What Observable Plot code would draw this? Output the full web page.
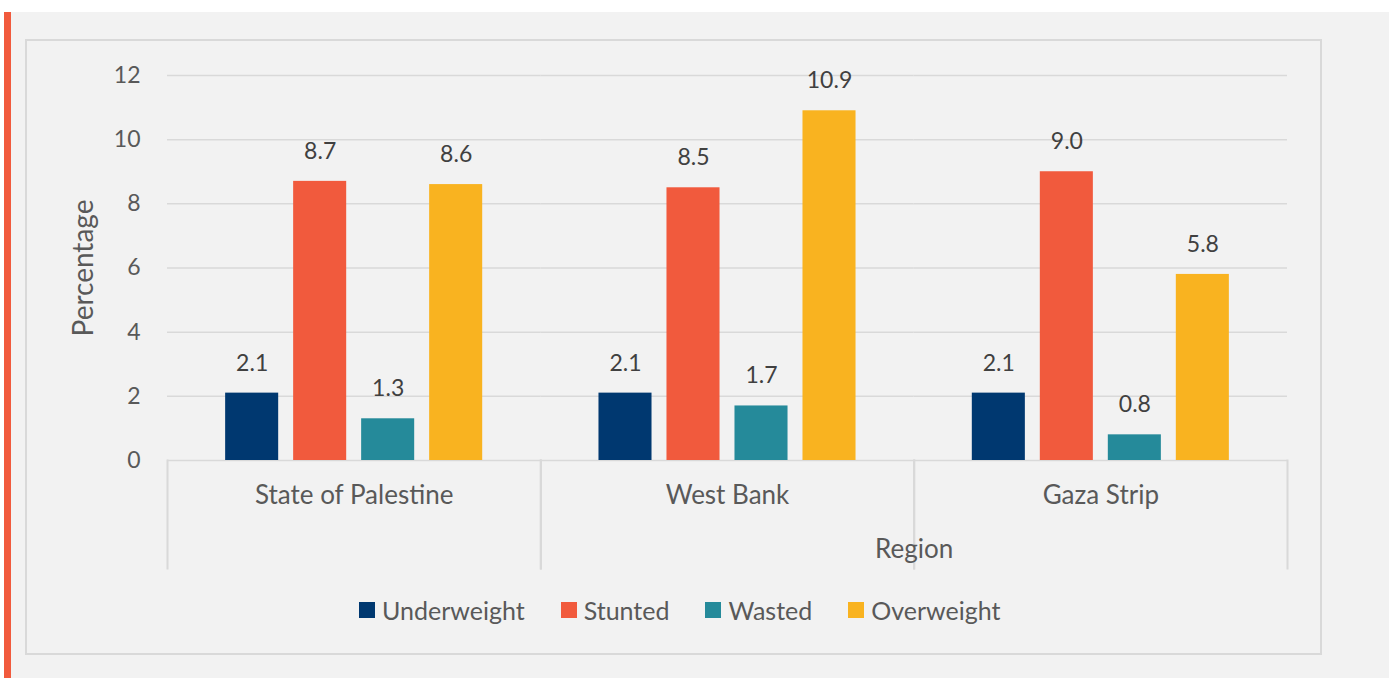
<!DOCTYPE html>
<html>
<head>
<meta charset="utf-8">
<script src="https://cdn.jsdelivr.net/npm/d3@7"></script>
<script src="https://cdn.jsdelivr.net/npm/@observablehq/plot@0.6"></script>
<style>
  html, body { margin: 0; padding: 0; background: #ffffff; width: 1389px; height: 678px; overflow: hidden; }
  #panel { position: absolute; left: 4px; top: 12px; width: 1385px; height: 666px; background: #f2f2f2; border-left: 7px solid #f15a3d; box-sizing: border-box; }
  #frame { position: absolute; left: 25px; top: 39px; width: 1297px; height: 616px; border: 2px solid #d9d9d9; box-sizing: border-box; }
  #chart { position: absolute; left: 0; top: 0; }
  #legend { position: absolute; left: 359px; top: 595px; display: flex; align-items: center; font-family: Lato, "Open Sans", sans-serif; font-size: 25px; color: #595959; }
  .item { display: flex; align-items: center; margin-right: 36px; }
  .sw { width: 16px; height: 16px; margin-right: 7px; }
</style>
</head>
<body>
<div id="panel"></div>
<div id="frame"></div>
<div id="chart"></div>
<div id="legend"></div>
<script>
const regions = ["State of Palestine", "West Bank", "Gaza Strip"];
const series = ["Underweight", "Stunted", "Wasted", "Overweight"];
const colors = ["#003870", "#f15a3d", "#258a9a", "#f9b320"];
const underweight = [2.1, 2.1, 2.1];
const stunted = [8.7, 8.5, 9.0];
const wasted = [1.3, 1.7, 0.8];
const overweight = [8.6, 10.9, 5.8];
const yTicks = [0, 2, 4, 6, 8, 10, 12];
const yLabel = "Percentage";
const xLabel = "Region";

const valuesBySeries = [underweight, stunted, wasted, overweight];
const data = [];
regions.forEach((r, i) => {
  series.forEach((s, j) => data.push({region: r, series: s, value: valuesBySeries[j][i]}));
});

const font = "Lato, 'Open Sans', sans-serif";
const grey = "#d9d9d9";

const chart = Plot.plot({
  width: 1389,
  height: 590,
  marginLeft: 167,
  marginRight: 102,
  marginTop: 75,
  marginBottom: 130,
  style: {background: "transparent", fontFamily: font, color: "#595959", overflow: "visible"},
  fx: {domain: regions, padding: 0, round: false, axis: null},
  x: {domain: series, paddingInner: 0.22, paddingOuter: 0.855, round: false, axis: null},
  y: {domain: [0, 12], axis: null},
  color: {domain: series, range: colors},
  marks: [
    Plot.gridY(yTicks, {stroke: grey, strokeOpacity: 1, strokeWidth: 1.5}),
    Plot.frame({anchor: "left", stroke: grey, strokeWidth: 2, insetTop: 385, insetBottom: -108}),
    Plot.frame({anchor: "right", stroke: grey, strokeWidth: 2, insetTop: 385, insetBottom: -108}),
    Plot.axisY(yTicks, {tickSize: 0, tickPadding: 27, fontSize: 23, label: null, tickFormat: d => String(d)}),
    Plot.barY(data, {fx: "region", x: "series", y: "value", fill: "series"}),
    Plot.text(data, {fx: "region", x: "series", y: "value", text: d => d.value.toFixed(1), dy: -30, fontSize: 23, fill: "#404040"}),
    Plot.text(regions, {fx: d => d, text: d => d, frameAnchor: "bottom", dy: 43, fontSize: 26, fill: "#595959"}),
    Plot.text([xLabel], {fx: () => regions[2], text: d => d, frameAnchor: "bottom-left", dy: 97, textAnchor: "middle", fontSize: 26, fill: "#595959"}),
    Plot.text([yLabel], {fx: () => regions[0], text: d => d, frameAnchor: "left", dx: -83, rotate: -90, textAnchor: "middle", fontSize: 28, fill: "#595959"})
  ]
});
document.getElementById("chart").appendChild(chart);

const legend = document.getElementById("legend");
series.forEach((s, i) => {
  const item = document.createElement("div");
  item.className = "item";
  const sw = document.createElement("span");
  sw.className = "sw";
  sw.style.background = colors[i];
  const lab = document.createElement("span");
  lab.textContent = s;
  item.appendChild(sw);
  item.appendChild(lab);
  legend.appendChild(item);
});
</script>
</body>
</html>
